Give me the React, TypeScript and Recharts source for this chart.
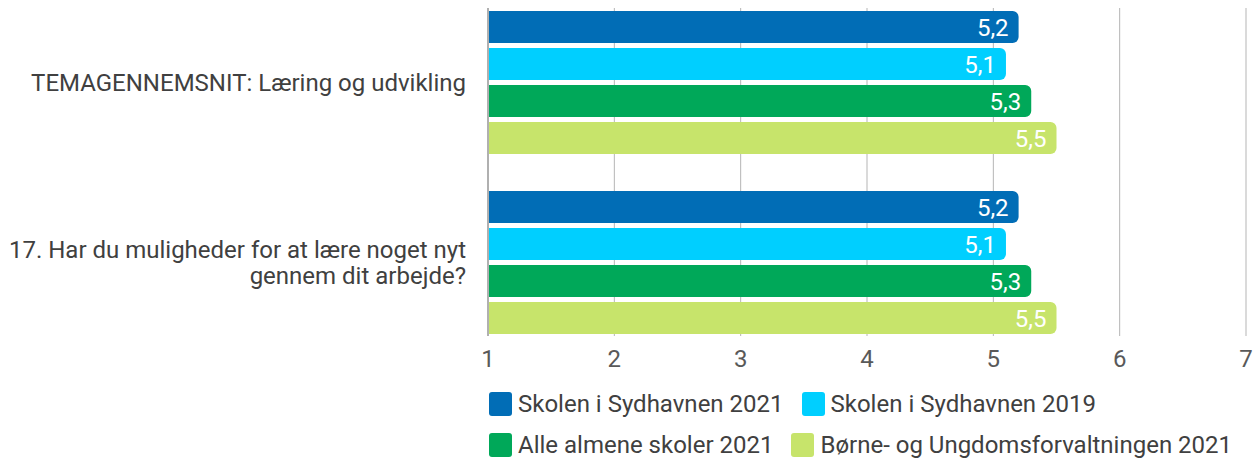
import React from 'react';
import { BarChart, Bar, XAxis, YAxis, CartesianGrid, Legend, LabelList } from 'recharts';

const categories = [
  'TEMAGENNEMSNIT: Læring og udvikling',
  '17. Har du muligheder for at lære noget nyt\ngennem dit arbejde?',
];
const sydhavnen2021 = [5.2, 5.2];
const sydhavnen2019 = [5.1, 5.1];
const almene2021 = [5.3, 5.3];
const buf2021 = [5.5, 5.5];
const xTicks = [1, 2, 3, 4, 5, 6, 7];

const seriesNames = [
  'Skolen i Sydhavnen 2021',
  'Skolen i Sydhavnen 2019',
  'Alle almene skoler 2021',
  'Børne- og Ungdomsforvaltningen 2021',
];
const seriesColors = ['#016DB6', '#00CFFF', '#00A859', '#C7E46B'];

const data = categories.map((c, i) => ({
  category: c,
  s1: sydhavnen2021[i],
  s2: sydhavnen2019[i],
  s3: almene2021[i],
  s4: buf2021[i],
}));

const FONT = 'Roboto, sans-serif';
const FS = 24;

const CategoryTick = (props: any) => {
  const { x, y, payload } = props;
  const lines: string[] = String(payload.value).split('\n');
  const lh = 26;
  const start = -((lines.length - 1) * lh) / 2;
  return (
    <text x={x} y={y} textAnchor="end" fill="#404040" fontSize={FS} fontFamily={FONT}>
      {lines.map((l, i) => (
        <tspan key={i} x={x} y={y + start + i * lh} dy="0.36em">
          {l}
        </tspan>
      ))}
    </text>
  );
};

const fmt = (v: any) => Number(v).toFixed(1).replace('.', ',');

const LegendContent = (props: any) => {
  const payload = [...(props.payload || [])].sort(
    (a: any, b: any) => seriesNames.indexOf(a.value) - seriesNames.indexOf(b.value)
  );
  return (
    <div
      style={{
        display: 'flex',
        flexWrap: 'wrap',
        width: 770,
        paddingTop: 1,
        fontFamily: FONT,
        fontSize: FS,
        color: '#404040',
      }}
    >
      {payload.map((p: any, i: number) => (
        <div key={i} style={{ display: 'flex', alignItems: 'center', height: 41, marginRight: 18 }}>
          <div style={{ width: 23, height: 24, background: p.color, borderRadius: 3, marginRight: 6 }} />
          <span style={{ whiteSpace: 'nowrap' }}>{p.value}</span>
        </div>
      ))}
    </div>
  );
};

export default function App() {
  const keys = ['s1', 's2', 's3', 's4'];
  return (
    <div style={{ position: 'absolute', left: 0, top: 0, background: '#fff' }}>
      <BarChart
        width={1259}
        height={462}
        data={data}
        layout="vertical"
        margin={{ top: 8, right: 13, bottom: 0, left: 0 }}
        barGap={5}
        barSize={32}
      >
        <CartesianGrid horizontal={false} vertical={true} stroke="#B5B5B5" strokeWidth={1} />
        <XAxis
          type="number"
          domain={[1, 7]}
          ticks={xTicks}
          axisLine={false}
          tickLine={false}
          tickSize={0}
          tickMargin={14}
          height={46}
          tick={{ fill: '#595959', fontSize: FS, fontFamily: FONT }}
          interval={0}
        />
        <YAxis
          type="category"
          dataKey="category"
          width={488}
          axisLine={{ stroke: '#B0B0B0', strokeWidth: 2 }}
          tickLine={false}
          tickSize={0}
          tickMargin={22}
          padding={{ top: -16, bottom: -16 }}
          tick={<CategoryTick />}
          interval={0}
        />
        <Legend
          verticalAlign="bottom"
          align="left"
          height={80}
          itemSorter={null as any}
          content={<LegendContent />}
          wrapperStyle={{ left: 489, width: 770 }}
        />
        {keys.map((k, i) => (
          <Bar
            key={k}
            dataKey={k}
            name={seriesNames[i]}
            fill={seriesColors[i]}
            radius={[0, 6, 6, 0]}
            isAnimationActive={false}
          >
            <LabelList
              dataKey={k}
              position="insideRight"
              offset={10}
              formatter={fmt}
              fill="#FFFFFF"
              fontSize={FS}
              fontFamily={FONT}
            />
          </Bar>
        ))}
      </BarChart>
    </div>
  );
}
